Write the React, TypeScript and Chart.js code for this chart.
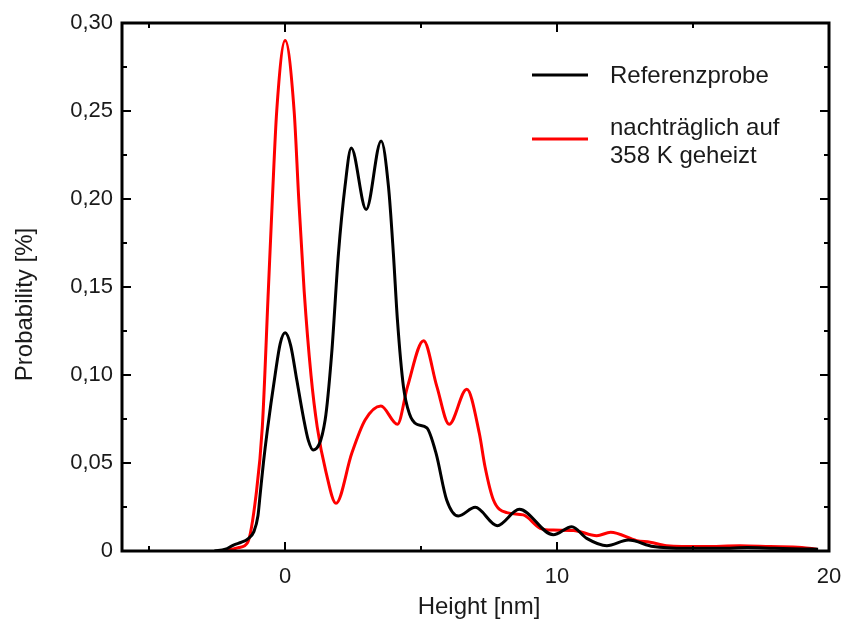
import React, { useEffect, useRef } from 'react';
import { Chart, registerables } from 'chart.js';

Chart.register(...registerables);

// ---- Data ----
const refX = [-2.6, -2.2, -1.9, -1.6, -1.38, -1.15, -1.0, -0.92, -0.8, -0.66, -0.37, -0.18, 0, 0.2, 0.43, 0.67, 0.85, 1.03, 1.47, 1.71, 1.96, 2.2, 2.43, 2.98, 3.53, 3.8, 3.98, 4.13, 4.35, 4.57, 4.84, 5.21, 5.55, 5.94, 6.37, 6.99, 7.8, 8.61, 9.86, 10.54, 11.09, 11.83, 12.62, 13.54, 14.77, 16, 17, 18, 19, 19.6];
const refY = [0, 0.001, 0.0034, 0.005, 0.0068, 0.011, 0.02, 0.032, 0.05, 0.068, 0.1, 0.118, 0.124, 0.117, 0.097, 0.076, 0.063, 0.0574, 0.0744, 0.112, 0.169, 0.207, 0.229, 0.194, 0.233, 0.207, 0.169, 0.131, 0.0934, 0.078, 0.072, 0.07, 0.0555, 0.029, 0.0199, 0.0248, 0.0144, 0.0237, 0.0092, 0.0138, 0.0072, 0.003, 0.0062, 0.0025, 0.0015, 0.0015, 0.002, 0.0015, 0.0012, 0.001];

const heatX = [-2.4, -2.0, -1.7, -1.38, -1.07, -0.84, -0.62, -0.47, -0.31, 0, 0.33, 0.5, 0.7, 0.95, 1.18, 1.5, 1.87, 2.45, 2.94, 3.52, 4.13, 4.5, 5.09, 5.58, 6.03, 6.68, 7.14, 7.35, 7.66, 8.15, 8.76, 9.38, 9.86, 10.6, 11.46, 11.97, 12.93, 13.42, 14.03, 15.38, 16.73, 17.83, 19.0, 19.55];
const heatY = [0, 0.0008, 0.002, 0.0048, 0.0318, 0.0704, 0.1475, 0.2, 0.25, 0.29, 0.25, 0.2, 0.1475, 0.1, 0.0704, 0.045, 0.0271, 0.0555, 0.0744, 0.0824, 0.072, 0.0934, 0.1195, 0.0934, 0.072, 0.0919, 0.0669, 0.0479, 0.029, 0.0218, 0.0205, 0.0129, 0.0119, 0.0117, 0.0087, 0.0106, 0.0059, 0.005, 0.003, 0.0025, 0.003, 0.0025, 0.002, 0.001];

const seriesRefName = 'Referenzprobe';
const seriesHeatName = ['nachträglich auf', '358 K geheizt'];

const xTickValues = [-5, 0, 5, 10, 15, 20];
const xLabelValues = [0, 10, 20];
const yTickValues = [0, 0.025, 0.05, 0.075, 0.1, 0.125, 0.15, 0.175, 0.2, 0.225, 0.25, 0.275, 0.3];
const yLabelValues = [0, 0.05, 0.1, 0.15, 0.2, 0.25, 0.3];

const xTitle = 'Height [nm]';
const yTitle = 'Probability [%]';

const FONT = '"Liberation Sans", Arial, Helvetica, sans-serif';
const TEXT = '#1a1a1a';

const isIn = (arr: number[], v: number) => arr.some((a) => Math.abs(a - v) < 1e-9);
const fmtY = (v: number) => (Math.abs(v) < 1e-9 ? '0' : v.toFixed(2).replace('.', ','));

const framePlugin = {
  id: 'frameAndExtras',
  afterDraw(chart: any) {
    const { ctx, chartArea: a, scales } = chart;
    ctx.save();
    const line = (x1: number, y1: number, x2: number, y2: number) => {
      ctx.beginPath();
      ctx.moveTo(x1, y1);
      ctx.lineTo(x2, y2);
      ctx.stroke();
    };
    ctx.strokeStyle = '#000';
    ctx.lineWidth = 2;
    for (const v of xTickValues) {
      const px = Math.round(scales.x.getPixelForValue(v));
      const len = isIn(xLabelValues, v) ? 9 : 5;
      line(px, a.bottom, px, a.bottom - len);
      line(px, a.top, px, a.top + len);
    }
    for (const v of yTickValues) {
      const py = Math.round(scales.y.getPixelForValue(v));
      const len = isIn(yLabelValues, v) ? 9 : 5;
      line(a.left, py, a.left + len, py);
      line(a.right, py, a.right - len, py);
    }
    ctx.lineWidth = 3;
    ctx.strokeRect(a.left, a.top, a.right - a.left, a.bottom - a.top);

    // legend
    ctx.lineWidth = 3;
    ctx.strokeStyle = '#000';
    line(532, 75, 588, 75);
    ctx.strokeStyle = '#ff0000';
    line(532, 139, 588, 139);
    ctx.fillStyle = TEXT;
    ctx.font = `24px ${FONT}`;
    ctx.textAlign = 'left';
    ctx.textBaseline = 'alphabetic';
    ctx.fillText(seriesRefName, 610, 83);
    ctx.fillText(seriesHeatName[0], 610, 135);
    ctx.fillText(seriesHeatName[1], 610, 163);

    // axis titles
    ctx.textAlign = 'center';
    ctx.fillText(xTitle, 479, 614);
    ctx.translate(32, 304.5);
    ctx.rotate(-Math.PI / 2);
    ctx.fillText(yTitle, 0, 0);
    ctx.restore();
  },
};

export default function App() {
  const canvasRef = useRef<HTMLCanvasElement | null>(null);

  useEffect(() => {
    const canvas = canvasRef.current;
    if (!canvas) return;
    const chart = new Chart(canvas, {
      type: 'line',
      data: {
        datasets: [
          {
            label: seriesRefName,
            data: refX.map((x, i) => ({ x, y: refY[i] })),
            borderColor: '#000000',
            borderWidth: 3,
            pointRadius: 0,
            cubicInterpolationMode: 'monotone',
            fill: false,
          },
          {
            label: seriesHeatName.join(' '),
            data: heatX.map((x, i) => ({ x, y: heatY[i] })),
            borderColor: '#ff0000',
            borderWidth: 3,
            pointRadius: 0,
            cubicInterpolationMode: 'monotone',
            fill: false,
          },
        ],
      },
      options: {
        responsive: false,
        animation: false,
        layout: { padding: { top: 23, right: 17, left: 0, bottom: 0 } },
        plugins: { legend: { display: false }, tooltip: { enabled: false } },
        scales: {
          x: {
            type: 'linear',
            min: -6,
            max: 20,
            afterBuildTicks: (s: any) => {
              s.ticks = xTickValues.map((v) => ({ value: v }));
            },
            afterFit: (s: any) => {
              s.height = 74;
              s.paddingRight = 0;
              s.paddingLeft = 0;
            },
            grid: { display: false, drawTicks: false },
            border: { display: false },
            ticks: {
              autoSkip: false,
              maxRotation: 0,
              padding: 13,
              color: TEXT,
              font: { family: FONT, size: 22 },
              callback: (v: any) => (isIn(xLabelValues, Number(v)) ? String(v) : ''),
            },
          },
          y: {
            type: 'linear',
            min: 0,
            max: 0.3,
            afterBuildTicks: (s: any) => {
              s.ticks = yTickValues.map((v) => ({ value: v }));
            },
            afterFit: (s: any) => {
              s.width = 122;
              s.paddingTop = 0;
              s.paddingBottom = 0;
            },
            grid: { display: false, drawTicks: false },
            border: { display: false },
            ticks: {
              autoSkip: false,
              padding: 9,
              color: TEXT,
              font: { family: FONT, size: 22 },
              callback: (v: any) => (isIn(yLabelValues, Number(v)) ? fmtY(Number(v)) : ''),
            },
          },
        },
      },
      plugins: [framePlugin],
    } as any);
    return () => chart.destroy();
  }, []);

  return (
    <div style={{ position: 'absolute', left: 0, top: 0, width: 846, height: 625, background: '#fff' }}>
      <canvas ref={canvasRef} width={846} height={625} style={{ display: 'block' }} />
    </div>
  );
}
